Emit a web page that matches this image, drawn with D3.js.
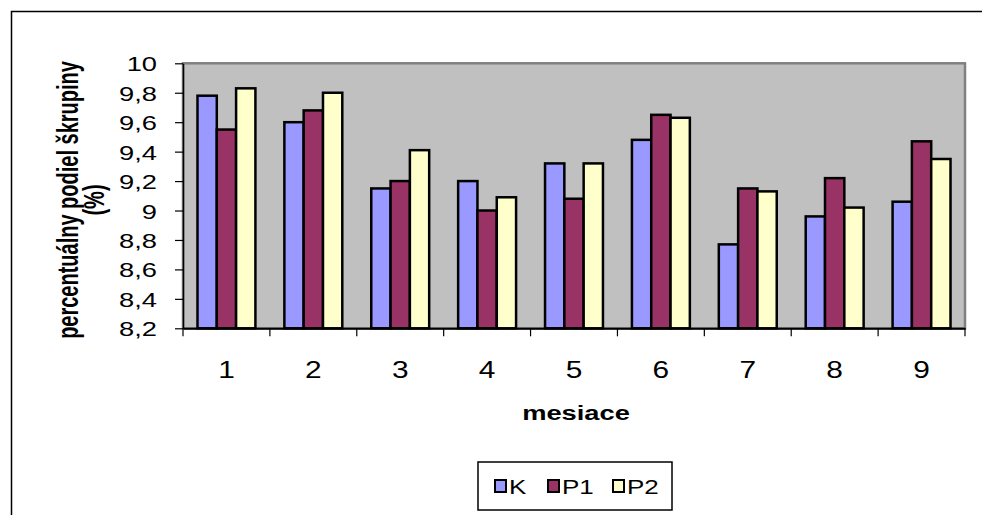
<!DOCTYPE html>
<html>
<head>
<meta charset="utf-8">
<script src="https://cdn.jsdelivr.net/npm/d3@7"></script>
<style>
  html, body { margin: 0; padding: 0; background: #fff; }
  text { font-family: "Liberation Sans", Arial, sans-serif; fill: #000; }
</style>
</head>
<body>
<svg id="chart" width="982" height="515"></svg>
<script>
const categories = ["1", "2", "3", "4", "5", "6", "7", "8", "9"];
const seriesNames = ["K", "P1", "P2"];
const valuesK  = [9.78, 9.60, 9.15, 9.20, 9.32, 9.48, 8.77, 8.96, 9.06];
const valuesP1 = [9.55, 9.68, 9.20, 9.00, 9.08, 9.65, 9.15, 9.22, 9.47];
const valuesP2 = [9.83, 9.80, 9.41, 9.09, 9.32, 9.63, 9.13, 9.02, 9.35];
const seriesColors = ["#9999FF", "#993366", "#FFFFCC"];
const yTicks = [8.2, 8.4, 8.6, 8.8, 9, 9.2, 9.4, 9.6, 9.8, 10];
const yTitleLines = ["percentuálny podiel škrupiny", "(%)"];
const xTitle = "mesiace";

const allValues = [valuesK, valuesP1, valuesP2];
const SX = 1.3; // horizontal text stretch seen in the reference

const svg = d3.select("#chart");
const plot = { left: 183, top: 63.3, right: 965, bottom: 328.3 };

// outer frame
svg.append("rect").attr("x", 11.5).attr("y", 11.5).attr("width", 1000).attr("height", 600)
  .attr("fill", "none").attr("stroke", "#000").attr("stroke-width", 1.5);

const x = d3.scaleBand().domain(categories).range([plot.left, plot.right]).paddingInner(0).paddingOuter(0);
const y = d3.scaleLinear().domain([8.2, 10]).range([plot.bottom, plot.top]);
const groupWidth = x.bandwidth() * 3 / 4.5;
const xs = d3.scaleBand().domain(seriesNames).range([0, groupWidth]);
const groupOffset = (x.bandwidth() - groupWidth) / 2;

// plot area
svg.append("rect").attr("x", plot.left).attr("y", plot.top)
  .attr("width", plot.right - plot.left).attr("height", plot.bottom - plot.top)
  .attr("fill", "#C0C0C0").attr("stroke", "#808080").attr("stroke-width", 2.5);

// bars
seriesNames.forEach((s, si) => {
  svg.append("g").selectAll("rect").data(categories).join("rect")
    .attr("x", (c) => x(c) + groupOffset + xs(s))
    .attr("width", xs.bandwidth())
    .attr("y", (c, i) => y(allValues[si][i]))
    .attr("height", (c, i) => y(8.2) - y(allValues[si][i]))
    .attr("fill", seriesColors[si])
    .attr("stroke", "#000").attr("stroke-width", 2.5);
});

// y axis
const yAxis = svg.append("g").attr("transform", `translate(${plot.left},0)`)
  .call(d3.axisLeft(y).tickValues(yTicks).tickSizeOuter(0).tickSizeInner(8)
    .tickFormat(d => String(d).replace(".", ",")));
yAxis.select(".domain").attr("stroke", "#000").attr("stroke-width", 1.5);
yAxis.selectAll(".tick line").attr("stroke", "#000").attr("stroke-width", 1.2);
yAxis.selectAll(".tick text")
  .attr("font-size", 21).attr("font-family", "Liberation Sans, Arial, sans-serif")
  .attr("x", -26 / SX).attr("dy", null).attr("y", 7.5)
  .attr("transform", `scale(${SX},1)`);

// x axis
const xAxis = svg.append("g").attr("transform", `translate(0,${plot.bottom})`)
  .call(d3.axisBottom(x).tickSize(0).tickSizeOuter(0));
xAxis.select(".domain").attr("stroke", "#000").attr("stroke-width", 2);
xAxis.selectAll(".tick line").remove();
xAxis.selectAll(".tick text")
  .attr("font-size", 23).attr("font-family", "Liberation Sans, Arial, sans-serif")
  .attr("dy", null).attr("y", 50).attr("x", 0)
  .attr("transform", `scale(${SX},1)`)
  .attr("text-anchor", "middle");
// tick marks at category boundaries
const boundaries = categories.map(c => x(c)).concat([x(categories[categories.length - 1]) + x.bandwidth()]);
svg.append("g").selectAll("line").data(boundaries).join("line")
  .attr("x1", d => d).attr("x2", d => d)
  .attr("y1", plot.bottom).attr("y2", plot.bottom + 8)
  .attr("stroke", "#000").attr("stroke-width", 1.2);

// x title
svg.append("text")
  .attr("transform", `translate(${(plot.left + plot.right) / 2 + 2},420) scale(${SX},1)`)
  .attr("text-anchor", "middle").attr("font-weight", "bold").attr("font-size", 21)
  .text(xTitle);

// y title
const yTitleX = [78, 104];
yTitleLines.forEach((line, i) => {
  svg.append("text")
    .attr("transform", `translate(${yTitleX[i]},200) scale(1.5,1) rotate(-90)`)
    .attr("text-anchor", "middle").attr("font-weight", "bold").attr("font-size", 20)
    .text(line);
});

// legend
const legend = svg.append("g");
legend.append("rect").attr("x", 478).attr("y", 462).attr("width", 194).attr("height", 48)
  .attr("fill", "#fff").attr("stroke", "#000").attr("stroke-width", 1.5);
const legendX = [495, 548, 613];
seriesNames.forEach((s, i) => {
  legend.append("rect").attr("x", legendX[i]).attr("y", 480).attr("width", 11).attr("height", 12)
    .attr("fill", seriesColors[i]).attr("stroke", "#000").attr("stroke-width", 2);
  legend.append("text")
    .attr("transform", `translate(${legendX[i] + 14},494) scale(${SX},1)`)
    .attr("font-size", 20).text(s);
});
</script>
</body>
</html>
